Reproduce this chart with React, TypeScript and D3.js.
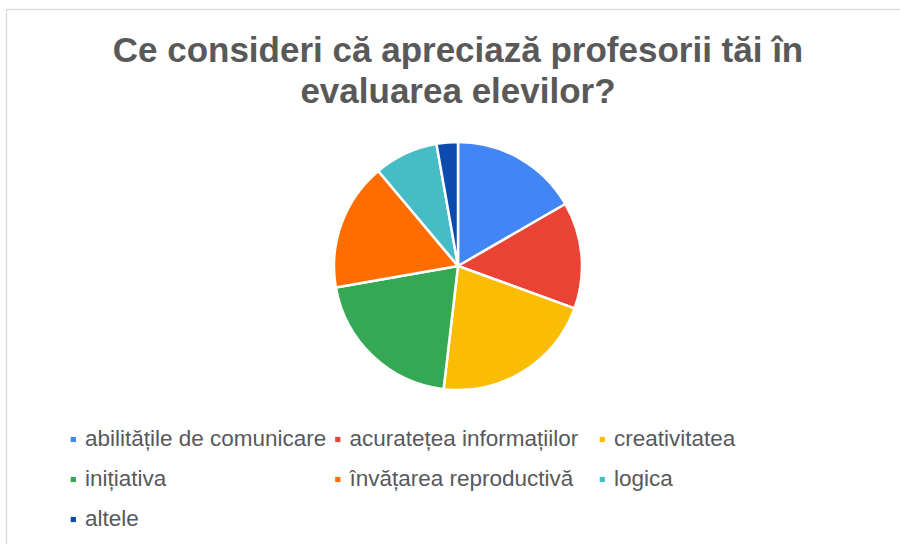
import React from "react";
import * as d3 from "d3";

const categories = [
  "abilitățile de comunicare",
  "acuratețea informațiilor",
  "creativitatea",
  "inițiativa",
  "învățarea reproductivă",
  "logica",
  "altele",
];
const values = [18, 15, 23, 22, 18, 9, 3];
const colors = ["#4285F4", "#EA4335", "#FBBC04", "#34A853", "#FF6D01", "#46BDC6", "#0B4BAE"];
const titleLines = ["Ce consideri că apreciază profesorii tăi în", "evaluarea elevilor?"];

const W = 900;
const H = 544;

export default function App() {
  const cx = 458;
  const cy = 266;
  const r = 124;
  const pie = d3.pie<number>().sort(null).value((d) => d)(values);
  const arc = d3.arc<d3.PieArcDatum<number>>().innerRadius(0).outerRadius(r);

  const colX = [85, 349.5, 614];
  const rowY = [445.7, 485.7, 525.7];

  return (
    <svg
      width={W}
      height={H}
      style={{ position: "absolute", left: 0, top: 0 }}
      fontFamily="'Liberation Sans', Arial, sans-serif"
    >
      <rect x={0} y={0} width={W} height={H} fill="#fff" />
      <rect x={6.5} y={9.5} width={W + 20} height={H + 20} fill="#fff" stroke="#d9d9d9" strokeWidth={1.3} />
      {titleLines.map((t, i) => (
        <text
          key={i}
          x={458}
          y={61.5 + i * 41.5}
          textAnchor="middle"
          fontSize={35}
          fontWeight="bold"
          fill="#595959"
        >
          {t}
        </text>
      ))}
      <g transform={`translate(${cx},${cy})`}>
        {pie.map((d, i) => (
          <path key={i} d={arc(d) || ""} fill={colors[i]} stroke="#fff" strokeWidth={2.5} strokeLinejoin="round" />
        ))}
      </g>
      {categories.map((c, i) => {
        const col = i % 3;
        const row = Math.floor(i / 3);
        const x = colX[col];
        const y = rowY[row];
        return (
          <g key={c}>
            <rect x={x - 14.3} y={y - 8.8} width={5.2} height={5.2} fill={colors[i]} />
            <text x={x} y={y} fontSize={22.5} fill="#595959">
              {c}
            </text>
          </g>
        );
      })}
    </svg>
  );
}
